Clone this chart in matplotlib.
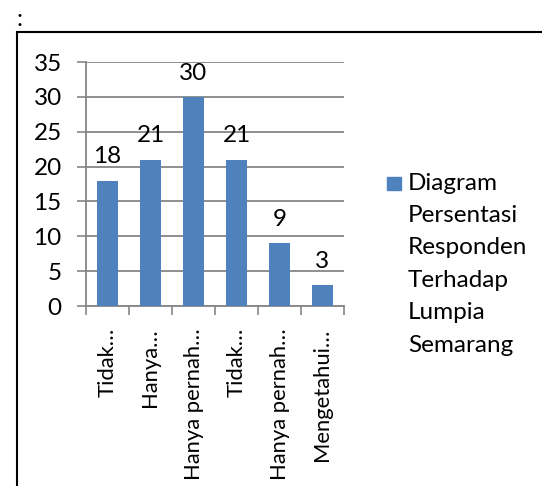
import matplotlib.pyplot as plt
from matplotlib.patches import Rectangle
import numpy as np

categories = ["Tidak…", "Hanya…", "Hanya pernah…", "Tidak…", "Hanya pernah…", "Mengetahui…"]
values = [18, 21, 30, 21, 9, 3]
legend_lines = ["Diagram", "Persentasi", "Responden", "Terhadap", "Lumpia", "Semarang"]
yticks = [0, 5, 10, 15, 20, 25, 30, 35]

plt.rcParams['font.family'] = ['Lato', 'DejaVu Sans']
bar_color = '#4F81BD'
grid_color = '#868686'
fs = 17.5

W, H = 542, 486
fig = plt.figure(figsize=(W / 100, H / 100), dpi=100)
ax = fig.add_axes([86 / W, 1 - 306 / H, (344 - 86) / W, (306 - 62) / H])

x = np.arange(len(categories))
ax.bar(x, values, width=0.5, color=bar_color, zorder=3)
for xi, v in zip(x, values):
    ax.annotate(str(v), (xi, v), xytext=(0, 9.5), textcoords='offset points',
                ha='center', va='bottom', fontsize=fs)

ax.set_xlim(-0.5, len(categories) - 0.5)
ax.set_ylim(0, 35)
ax.set_yticks(yticks)
ax.set_yticklabels([str(t) for t in yticks], fontsize=fs)
ax.yaxis.grid(True, color=grid_color, lw=1.3, zorder=0)
ax.tick_params(axis='y', length=6.5, width=1.2, color=grid_color, pad=11)

ax.set_xticks(x)
ax.set_xticklabels(categories, rotation=90, fontsize=15.8, va='top')
ax.set_xticks(np.arange(len(categories) + 1) - 0.5, minor=True)
ax.tick_params(axis='x', which='major', length=0, pad=16)
ax.tick_params(axis='x', which='minor', length=6.5, width=1.2, color=grid_color)

for s in ['top', 'right']:
    ax.spines[s].set_visible(False)
for s in ['left', 'bottom']:
    ax.spines[s].set_color(grid_color)
    ax.spines[s].set_linewidth(1.3)

# legend drawn by hand so the marker sits on the first line
fig.patches.append(Rectangle((387 / W, 1 - 190 / H), 14 / W, 13 / H,
                             transform=fig.transFigure, color=bar_color))
for i, line in enumerate(legend_lines):
    fig.text(408 / W, 1 - (183 + i * 32.4) / H, line, fontsize=fs, va='center', ha='left')

# outer frame of the chart object
fig.patches.append(Rectangle((16.5 / W, -0.1), 1.0, 1 - 32 / H + 0.1,
                             transform=fig.transFigure, fill=False, ec='black', lw=1.5))
fig.text(16 / W, 1 - 19 / H, ":", fontsize=fs, va='center', ha='left')

fig.savefig("out.png", dpi=100)
